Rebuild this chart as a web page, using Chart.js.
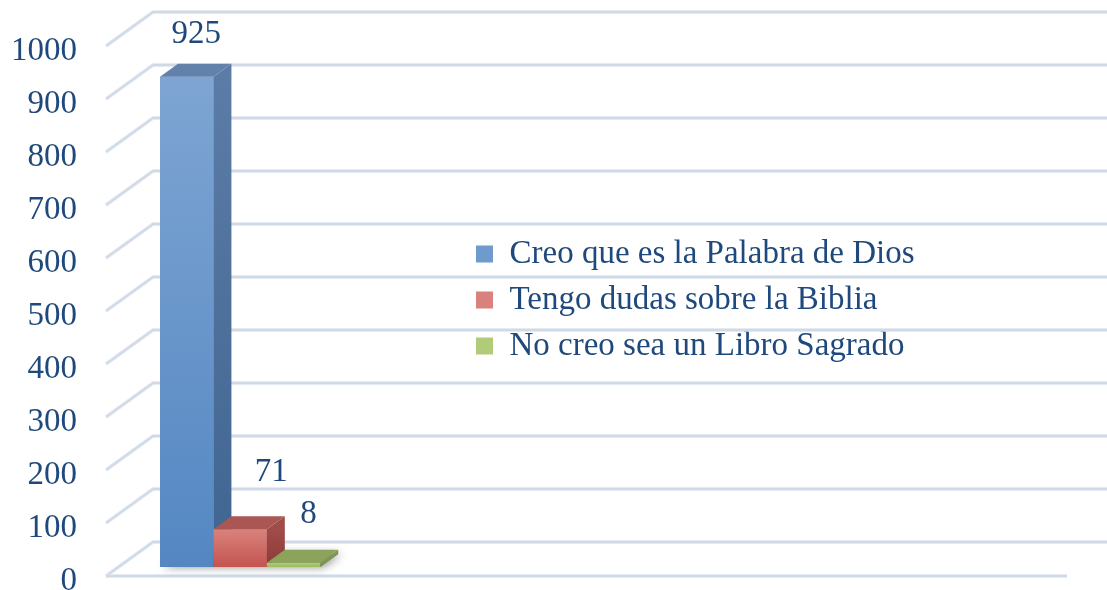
<!DOCTYPE html>
<html>
<head>
<meta charset="utf-8">
<script src="https://cdn.jsdelivr.net/npm/chart.js@4"></script>
<style>
  html, body { margin: 0; padding: 0; background: #fff; }
  #wrap { width: 1107px; height: 590px; position: relative; }
</style>
</head>
<body>
<div id="wrap"><canvas id="grafico"></canvas></div>
<script>
// datos
const categorias = ['', '', '', ''];
const series = ['Creo que es la Palabra de Dios', 'Tengo dudas sobre la Biblia', 'No creo sea un Libro Sagrado'];
const creo = [925];
const dudas = [71];
const noCreo = [8];
const yMin = 0, yMax = 1000, yPaso = 100;

const colores = [
    { arriba: '#7EA5D3', abajo: '#5487C2', lado: ['#5B7CA6', '#3F6590'], tapa: '#6282AC', leyenda: '#6E98CB' },
    { arriba: '#D9827D', abajo: '#C4544F', lado: ['#A04C48', '#8C3B38'], tapa: '#AA5754', leyenda: '#CD6B67' },
    { arriba: '#B0CC78', abajo: '#9BBB59', lado: ['#7F9650', '#728947'], tapa: '#8CA35B', leyenda: '#A6C46C' }
];
const azulTexto = '#1F497D';
const fuente = 'Liberation Serif';

// perspectiva (pixeles)
const FRENTE = { dx: -14, dy: 9 };
const FONDO = { dx: 33, dy: -25 };
const PROF = { dx: 18, dy: -13 };
const desplEtiquetas = [[9.5, -42], [31, -57], [15, -48]];

function poligono(ctx, pts, fill) {
    ctx.beginPath();
    ctx.moveTo(pts[0][0], pts[0][1]);
    for (let i = 1; i < pts.length; i++) ctx.lineTo(pts[i][0], pts[i][1]);
    ctx.closePath();
    ctx.fillStyle = fill;
    ctx.fill();
}

function linea(ctx, pts) {
    ctx.beginPath();
    ctx.moveTo(pts[0][0], pts[0][1]);
    for (let i = 1; i < pts.length; i++) ctx.lineTo(pts[i][0], pts[i][1]);
    ctx.lineWidth = 3.5;
    ctx.strokeStyle = '#DCE5F0';
    ctx.stroke();
    ctx.save();
    ctx.translate(0, -1.5);
    ctx.lineWidth = 1;
    ctx.strokeStyle = 'rgba(180,190,204,0.55)';
    ctx.stroke();
    ctx.restore();
}

const paredes3d = {
    id: 'paredes3d',
    afterLayout(chart) {
        // leyenda en medio del grafico
        const lg = chart.legend;
        lg.left = 463; lg.right = 1107;
        lg.top = 224.5; lg.bottom = 224.5 + 200;
    },
    beforeDatasetsDraw(chart) {
        const { ctx, chartArea: a, scales: { y } } = chart;
        ctx.save();
        y.ticks.forEach(t => {
            const py = y.getPixelForValue(t.value);
            linea(ctx, [[a.left + FRENTE.dx, py + FRENTE.dy], [a.left + FONDO.dx, py + FONDO.dy], [a.right + FONDO.dx, py + FONDO.dy]]);
        });
        const p0 = y.getPixelForValue(0);
        linea(ctx, [[a.left + FRENTE.dx, p0 + FRENTE.dy], [a.right + FRENTE.dx, p0 + FRENTE.dy]]);

        // sombra en el piso
        const els = chart.data.datasets.map((d, i) => chart.getDatasetMeta(i).data[0]);
        const xl = els[0].x - els[0].width / 2;
        const last = els[els.length - 1];
        const xr = last.x + last.width / 2;
        const b = els[0].base;
        ctx.shadowColor = 'rgba(0,0,0,0.45)';
        ctx.shadowBlur = 10;
        ctx.shadowOffsetX = 3;
        poligono(ctx, [[xl, b], [xr, b], [xr + PROF.dx, b + PROF.dy], [xl + PROF.dx, b + PROF.dy]], '#888');
        ctx.restore();
    },
    afterDatasetsDraw(chart) {
        const { ctx } = chart;
        ctx.save();
        chart.data.datasets.forEach((ds, i) => {
            const col = colores[i];
            chart.getDatasetMeta(i).data.forEach(el => {
                el.draw(ctx);
                const h = el.width / 2;
                const xl = el.x - h, xr = el.x + h, yt = el.y, yb = el.base;
                const g = ctx.createLinearGradient(0, yt, 0, yb);
                g.addColorStop(0, col.lado[0]);
                g.addColorStop(1, col.lado[1]);
                poligono(ctx, [[xr, yt], [xr + PROF.dx, yt + PROF.dy], [xr + PROF.dx, yb + PROF.dy], [xr, yb]], g);
                poligono(ctx, [[xl, yt], [xl + PROF.dx, yt + PROF.dy], [xr + PROF.dx, yt + PROF.dy], [xr, yt]], col.tapa);
            });
        });
        // etiquetas de valores
        ctx.font = '33px "' + fuente + '"';
        ctx.fillStyle = azulTexto;
        ctx.textAlign = 'center';
        ctx.textBaseline = 'middle';
        chart.data.datasets.forEach((ds, i) => {
            chart.getDatasetMeta(i).data.forEach((el, j) => {
                const off = desplEtiquetas[i];
                ctx.fillText(String(ds.data[j]), el.x + off[0], el.y + off[1]);
            });
        });
        ctx.restore();
    }
};

function fondoBarra(i) {
    return function (c) {
        const col = colores[i];
        if (c.type !== 'data' || !c.chart.chartArea) return col.leyenda;
        const y = c.chart.scales.y;
        const g = c.chart.ctx.createLinearGradient(0, y.getPixelForValue(c.raw), 0, y.getPixelForValue(0));
        g.addColorStop(0, col.arriba);
        g.addColorStop(1, col.abajo);
        return g;
    };
}

const ctx = document.getElementById('grafico').getContext('2d');
const chart = new Chart(ctx, {
    type: 'bar',
    data: {
        labels: categorias,
        datasets: [
            { label: series[0], data: creo, backgroundColor: fondoBarra(0) },
            { label: series[1], data: dudas, backgroundColor: fondoBarra(1) },
            { label: series[2], data: noCreo, backgroundColor: fondoBarra(2) }
        ]
    },
    options: {
        responsive: true,
        maintainAspectRatio: false,
        devicePixelRatio: 1,
        animation: false,
        layout: { padding: { top: 37, bottom: 23, left: 0, right: 26 } },
        datasets: { bar: { categoryPercentage: 0.667, barPercentage: 1.0, borderWidth: 0 } },
        scales: {
            x: { display: false },
            y: {
                min: yMin,
                max: yMax,
                grid: { display: false, drawTicks: false },
                border: { display: false },
                ticks: {
                    stepSize: yPaso,
                    padding: 43,
                    labelOffset: 14,
                    color: azulTexto,
                    font: { family: fuente, size: 33 },
                    callback: (v) => String(v)
                },
                afterFit(axis) {
                    axis.width = 120;
                    axis.paddingTop = 0;
                    axis.paddingBottom = 0;
                }
            }
        },
        plugins: {
            legend: {
                position: 'chartArea',
                align: 'start',
                labels: {
                    boxWidth: 17,
                    boxHeight: 17,
                    padding: 13,
                    color: azulTexto,
                    font: { family: fuente, size: 33 }
                }
            },
            tooltip: { enabled: false }
        }
    },
    plugins: [paredes3d]
});
</script>
</body>
</html>
